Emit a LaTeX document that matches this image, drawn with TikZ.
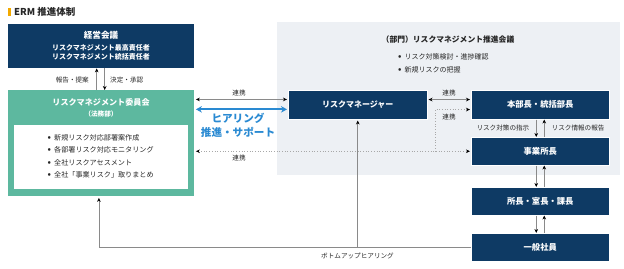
\documentclass[tikz,border=0pt]{standalone}
\usepackage{fontspec}
\setmainfont{Noto Sans CJK JP}
\usetikzlibrary{arrows.meta,calc}
\definecolor{navy}{HTML}{0E3A64}
\definecolor{tealbox}{HTML}{5DB89F}
\definecolor{panelgray}{HTML}{EDF0F4}
\definecolor{hearblue}{HTML}{2A8AD2}
\definecolor{linegray}{HTML}{8A8A8A}
\definecolor{dotgray}{HTML}{A8A8A8}
\definecolor{textdark}{HTML}{262626}
\definecolor{titlebar}{HTML}{F2A900}
\newcommand\mybul{\makebox[6.5pt][l]{\fontsize{8.5}{6}\selectfont\bfseries •}}
\begin{document}
\begin{tikzpicture}[x=1pt,y=-1pt,
  navybox/.style={fill=navy, draw=white, line width=0.5pt, text=white, font=\bfseries\fontsize{8.3}{10}\selectfont, inner sep=0pt, anchor=north west, minimum width=138pt, minimum height=28pt},
  lbl/.style={font=\fontsize{6.6}{8}\selectfont, text=textdark, inner sep=0pt},
  conn/.style={draw=linegray, line width=0.8pt},
  dotline/.style={draw=dotgray, line width=0.7pt, dotted},
  bluearrow/.style={draw=hearblue, line width=2.2pt, {Stealth[length=6pt,width=6.5pt,color=hearblue]}-{Stealth[length=6pt,width=6.5pt,color=hearblue]}},
  >={Stealth[length=4pt,width=3.6pt,color=black]}
]
\useasboundingbox (0,0) rectangle (624,268);
% title
\fill[titlebar] (7.5,8) rectangle (10.5,15.5);
\node[anchor=west, inner sep=0pt, font=\bfseries\fontsize{9.5}{11}\selectfont, text=textdark] (title) at (14,11.8) {ERM 推進体制};
% panel
\node[fill=panelgray, inner sep=0pt, minimum width=343pt, minimum height=153pt, anchor=north west] (panel) at (277,22) {};
\node[inner sep=0pt, font=\bfseries\fontsize{7.8}{10}\selectfont, text=textdark] (panelT) at (448,40) {（部門）リスクマネジメント推進会議};
\node[inner sep=0pt, anchor=west, align=left, font=\fontsize{7}{13.5}\selectfont, text=textdark] (panelB) at (398,63.5) {\mybul リスク対策検討・進捗確認\\\mybul 新規リスクの把握};
% management meeting
\node[fill=navy, inner sep=0pt, minimum width=186pt, minimum height=44pt, anchor=north west] (keiei) at (8,24) {};
\node[inner sep=0pt, text=white, font=\bfseries\fontsize{8.6}{10}\selectfont] (keieiT) at (101,35) {経営会議};
\node[inner sep=0pt, text=white, align=center, font=\bfseries\fontsize{7}{9}\selectfont] (keieiS) at (101,52.3) {リスクマネジメント最高責任者\\リスクマネジメント統括責任者};
% committee
\node[fill=tealbox, inner sep=0pt, minimum width=186pt, minimum height=106pt, anchor=north west] (cmte) at (8,90) {};
\node[fill=white, inner sep=0pt, minimum width=174pt, minimum height=64pt, anchor=north west] (cmteIn) at (14,125) {};
\node[inner sep=0pt, text=white, font=\bfseries\fontsize{8.1}{10}\selectfont] (cmteT) at (101,102) {リスクマネジメント委員会};
\node[inner sep=0pt, text=white, font=\bfseries\fontsize{6.6}{8}\selectfont] (cmteS) at (101,114.3) {（法務部）};
\node[inner sep=0pt, anchor=west, align=left, font=\fontsize{7.1}{12.45}\selectfont, text=textdark] (cmteB) at (47.5,156.4) {\mybul 新規リスク対応部署案作成\\\mybul 各部署リスク対応モニタリング\\\mybul 全社リスクアセスメント\\\mybul 全社「事業リスク」取りまとめ};
% right-hand boxes
\node[navybox, minimum width=139pt, minimum height=29pt, font=\bfseries\fontsize{8}{10}\selectfont] (rm) at (288,90) {リスクマネージャー};
\node[navybox, minimum height=29pt] (honbu) at (471,90) {本部長・統括部長};
\node[navybox] (jigyo) at (471,137) {事業所長};
\node[navybox] (shocho) at (471,187) {所長・室長・課長};
\node[navybox] (ippan) at (471,233) {一般社員};
% keiei <-> committee
\draw[conn,->] ([xshift=-4.5pt]cmte.north) -- ([xshift=-4.5pt]keiei.south);
\draw[conn,->] ([xshift=3.5pt]keiei.south) -- ([xshift=3.5pt]cmte.north);
\node[lbl, anchor=east] (lbA) at (89,80) {報告・提案};
\node[lbl, anchor=west] (lbB) at (110,80) {決定・承認};
% committee <-> risk manager
\coordinate (a1) at ([yshift=5.3pt]rm.west);
\coordinate (a2) at ([yshift=-4.6pt]rm.west);
\draw[conn,<->, shorten <=1.5pt, shorten >=1pt] (a1 -| cmte.east) -- (a1);
\node[lbl] (lbC) at (239,93) {連携};
\draw[bluearrow, shorten <=1.5pt, shorten >=1pt] (a2 -| cmte.east) -- (a2);
\node[inner sep=0pt, align=center, text=hearblue, font=\bfseries\fontsize{10.6}{14}\selectfont] (hear) at (238,125) {ヒアリング\\推進・サポート};
% risk manager <-> honbu
\coordinate (b1) at ([yshift=5.2pt]honbu.west);
\coordinate (b2) at ([yshift=-4.8pt]honbu.west);
\draw[conn,<->, shorten <=1pt, shorten >=1pt] (b1 -| rm.east) -- (b1);
\node[lbl] (lbD) at (449,93.3) {連携};
% dotted links
\coordinate (dj) at ([xshift=-36pt]jigyo.west);
\draw[dotline,<->, shorten <=1.5pt, shorten >=1pt] (cmte.east |- dj) -- (jigyo.west);
\draw[dotline,->, shorten >=1pt] (dj) |- (b2);
\node[lbl] (lbE) at (449,117) {連携};
\node[lbl] (lbF) at (239,158) {連携};
% vertical chain
\draw[conn,->] ([xshift=-4pt]honbu.south) -- ([xshift=-4pt]jigyo.north);
\draw[conn,->] ([xshift=4pt]jigyo.north) -- ([xshift=4pt]honbu.south);
\node[lbl, anchor=east] (lbG) at (529.5,128.3) {リスク対策の指示};
\node[lbl, anchor=west] (lbH) at (551.5,128.3) {リスク情報の報告};
\draw[conn,->] ([xshift=-4pt]jigyo.south) -- ([xshift=-4pt]shocho.north);
\draw[conn,->] ([xshift=4pt]shocho.north) -- ([xshift=4pt]jigyo.south);
\draw[conn,->] ([xshift=-4pt]shocho.south) -- ([xshift=-4pt]ippan.north);
\draw[conn,->] ([xshift=4pt]ippan.north) -- ([xshift=4pt]shocho.south);
% bottom-up hearing
\draw[conn,->, shorten >=1.5pt] (ippan.west) -| ([xshift=-2.3pt]cmte.south);
\draw[conn,->, shorten >=1pt] (rm.south |- ippan.west) -- (rm.south);
\node[lbl] (lbI) at (357.5,255.5) {ボトムアップヒアリング};
\end{tikzpicture}
\end{document}
